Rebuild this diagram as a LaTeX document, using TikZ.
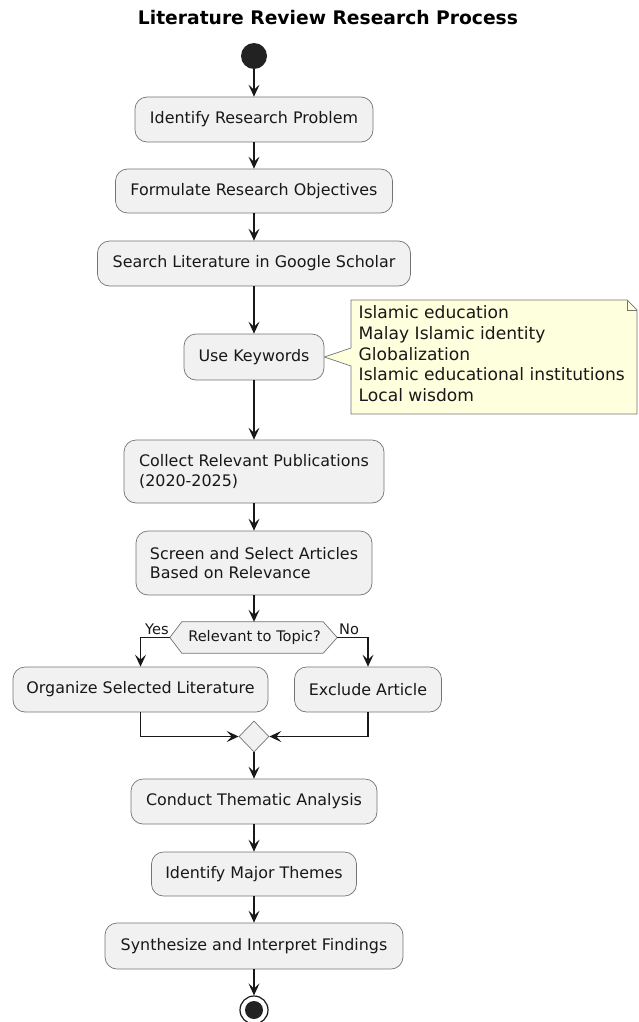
\documentclass[tikz,border=0pt]{standalone}
\usepackage{fontspec}
\setmainfont{DejaVu Sans}
\usetikzlibrary{arrows.meta,shapes.geometric,backgrounds}
\definecolor{boxfill}{HTML}{F1F1F1}
\definecolor{boxline}{HTML}{181818}
\definecolor{notefill}{HTML}{FEFFDD}
\definecolor{dark}{HTML}{222222}
\tikzset{
  act/.style={draw=boxline!60, line width=0.7pt, fill=boxfill, rounded corners=12pt,
    font=\fontsize{15.9}{19.8}\selectfont, inner sep=0pt, align=left, text=boxline},
  flow/.style={draw=boxline, line width=1.3pt, -{Stealth[length=12pt,width=11pt,inset=5pt]}},
  lbl/.style={font=\fontsize{14.6}{16}\selectfont, inner sep=0pt, text=boxline},
}
\begin{document}
\begin{tikzpicture}[x=1pt,y=-1pt]
\useasboundingbox (0,0) rectangle (638,1022);
\node[font=\bfseries\fontsize{18.7}{22}\selectfont, text=black] (title) at (328,18) {Literature Review Research Process};
\node[circle, fill=dark, minimum size=26pt, inner sep=0pt] (start) at (254,56) {};
\node[act, minimum width=238pt, minimum height=45pt] (b1) at (254,119.5) {Identify Research Problem};
\node[act, minimum width=277pt, minimum height=44pt] (b2) at (254,191) {Formulate Research Objectives};
\node[act, minimum width=313pt, minimum height=45pt] (b3) at (254,263.5) {Search Literature in Google Scholar};
\node[act, minimum width=140pt, minimum height=46pt] (b4) at (254,357) {Use Keywords};
\node[act, minimum width=260pt, minimum height=63pt] (b5) at (254,471.5) {Collect Relevant Publications\\(2020-2025)};
\node[act, minimum width=236pt, minimum height=64pt] (b6) at (254,563) {Screen and Select Articles\\Based on Relevance};
% decision
\node[minimum width=167pt, minimum height=31pt, inner sep=0pt] (dec) at (253.5,637.5) {};
\draw[draw=boxline!60, line width=0.7pt, fill=boxfill]
  (dec.west) -- ([xshift=12pt]dec.north west) -- ([xshift=-14pt]dec.north east) -- (dec.east)
  -- ([xshift=-14pt]dec.south east) -- ([xshift=12pt]dec.south west) -- cycle;
\node[lbl] (dectext) at (254.5,637.5) {Relevant to Topic?};
\node[lbl, anchor=south east] (yes) at (169,635) {Yes};
\node[lbl, anchor=south west] (no) at (339,635) {No};
\node[act, minimum width=255pt, minimum height=45pt] (org) at (140.5,689.5) {Organize Selected Literature};
\node[act, minimum width=147pt, minimum height=45pt] (exc) at (368,689.5) {Exclude Article};
\node[diamond, draw=boxline!60, line width=0.7pt, fill=boxfill, minimum width=30pt, minimum height=31pt, inner sep=0pt] (merge) at (254,736.5) {};
\node[act, minimum width=246pt, minimum height=45pt] (b7) at (254,801.5) {Conduct Thematic Analysis};
\node[act, minimum width=205pt, minimum height=44pt] (b8) at (254,874) {Identify Major Themes};
\node[act, minimum width=298pt, minimum height=46pt] (b9) at (254,946) {Synthesize and Interpret Findings};
\node[circle, draw=boxline, line width=1.2pt, fill=white, minimum size=28pt, inner sep=0pt] (stop) at (254,1010) {};
\node[circle, fill=dark, minimum size=18pt, inner sep=0pt] at (stop.center) {};
% note
\node[align=left, anchor=north west, inner sep=0pt, font=\fontsize{17.1}{20.7}\selectfont, text=boxline] (note) at (358.5,305.5)
  {Islamic education\\Malay Islamic identity\\Globalization\\Islamic educational institutions\\Local wisdom};
\begin{scope}[on background layer]
\draw[draw=boxline!60, line width=0.7pt, fill=notefill]
  (351,300) -- (627,300) -- (637,310) -- (637,414) -- (351,414) -- (351,366) -- (b4.east) -- (351,348) -- cycle;
\draw[draw=boxline!60, line width=0.7pt] (627,300) -- (627,310) -- (637,310);
\end{scope}
% connectors
\draw[flow] (start) -- (b1);
\draw[flow] (b1) -- (b2);
\draw[flow] (b2) -- (b3);
\draw[flow] (b3) -- (b4);
\draw[flow] (b4) -- (b5);
\draw[flow] (b5) -- (b6);
\draw[flow] (b6.south) -- (b6.south |- dec.north);
\draw[flow] (dec.west) -| (org.north);
\draw[flow] (dec.east) -| (exc.north);
\draw[flow] (org.south) |- (merge.west);
\draw[flow] (exc.south) |- (merge.east);
\draw[flow] (merge) -- (b7);
\draw[flow] (b7) -- (b8);
\draw[flow] (b8) -- (b9);
\draw[flow] (b9) -- (stop);
\end{tikzpicture}
\end{document}
